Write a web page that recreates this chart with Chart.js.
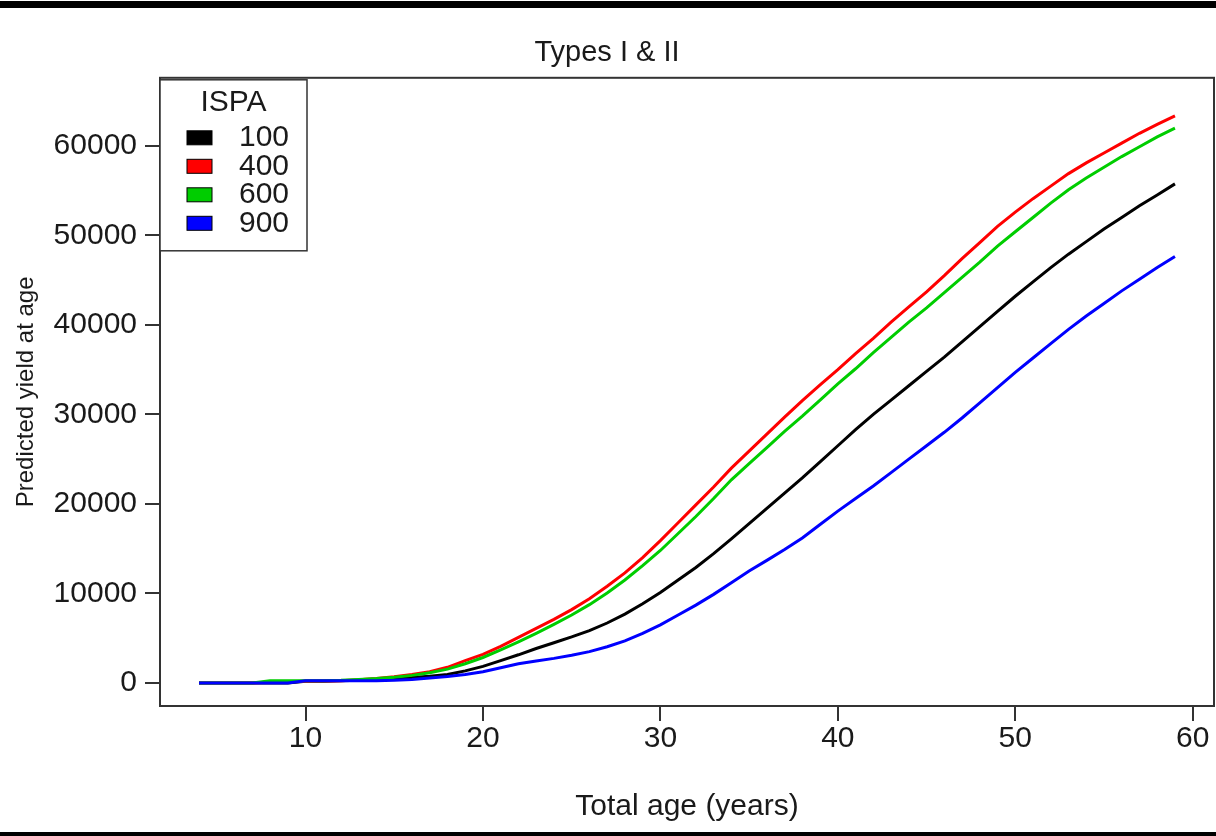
<!DOCTYPE html>
<html>
<head>
<meta charset="utf-8">
<title>Types I &amp; II</title>
<script src="https://cdn.jsdelivr.net/npm/chart.js@4.4.1/dist/chart.umd.min.js"></script>
<style>
  html, body { margin: 0; padding: 0; background: #fff; }
  #wrap { width: 1216px; height: 836px; }
</style>
</head>
<body>
<div id="wrap"><canvas id="chartYield"></canvas></div>
<script>
// Idade total (anos)
const ages = [4, 5, 6, 7, 8, 9, 10, 11, 12, 13, 14, 15, 16, 17, 18, 19, 20, 21, 22, 23, 24, 25, 26, 27, 28, 29, 30, 31,
  32, 33, 34, 35, 36, 37, 38, 39, 40, 41, 42, 43, 44, 45, 46, 47, 48, 49, 50, 51, 52, 53, 54, 55, 56, 57, 58, 59];

// Produção prevista por classe de ISPA
const yield100 = [0, 0, 0, 0, 0, 0, 200, 200, 250, 300, 400, 500, 600, 750, 950, 1350, 1850, 2500, 3150, 3850, 4500,
  5150, 5850, 6700, 7700, 8850, 10100, 11500, 12900, 14450, 16100, 17800, 19500, 21200, 22900, 24700, 26500, 28300,
  30000, 31600, 33200, 34800, 36400, 38100, 39800, 41500, 43200, 44800, 46400, 47900, 49300, 50700, 52000, 53300,
  54500, 55750];
const yield400 = [0, 0, 0, 0, 100, 150, 200, 220, 250, 350, 500, 700, 950, 1250, 1750, 2500, 3200, 4100, 5100, 6100,
  7100, 8200, 9400, 10800, 12300, 14000, 15900, 17900, 19900, 21900, 24000, 25900, 27800, 29700, 31550, 33300, 35000,
  36800, 38500, 40300, 42000, 43700, 45500, 47400, 49200, 51000, 52600, 54100, 55500, 56900, 58100, 59200, 60300,
  61400, 62400, 63350];
const yield600 = [0, 0, 0, 0, 250, 250, 250, 250, 300, 400, 500, 650, 850, 1150, 1550, 2150, 2850, 3700, 4600, 5550,
  6550, 7600, 8750, 10050, 11500, 13100, 14800, 16700, 18600, 20600, 22700, 24500, 26300, 28100, 29800, 31600, 33400,
  35100, 36900, 38600, 40300, 41900, 43600, 45300, 47000, 48800, 50400, 52000, 53600, 55100, 56400, 57600, 58800,
  59900, 61000, 61970];
const yield900 = [0, 0, 0, 0, 0, 0, 250, 250, 250, 250, 260, 300, 400, 550, 720, 950, 1250, 1700, 2150, 2450, 2750,
  3100, 3500, 4050, 4700, 5550, 6500, 7600, 8700, 9900, 11200, 12500, 13700, 14900, 16200, 17700, 19200, 20600, 22000,
  23500, 25000, 26500, 28000, 29600, 31300, 33000, 34700, 36300, 37900, 39500, 41000, 42400, 43800, 45100, 46400,
  47630];

const ispaClasses = ['100', '400', '600', '900'];
const ispaColors = ['#000000', '#ff0000', '#00cd00', '#0000ff'];

const xTicks = [10, 20, 30, 40, 50, 60];
const yTicks = [0, 10000, 20000, 30000, 40000, 50000, 60000];

const FONT = "'Liberation Sans', Arial, sans-serif";
const INK = '#1a1a1a';
const AXIS = '#333333';

const toPoints = vals => ages.map((a, i) => ({ x: a, y: vals[i] }));

// Fundo branco e faixas pretas da moldura
const frame = {
  id: 'frame',
  beforeDraw(chart) {
    const { ctx, width, height } = chart;
    ctx.save();
    ctx.fillStyle = '#fff';
    ctx.fillRect(0, 0, width, height);
    ctx.fillStyle = '#000';
    ctx.fillRect(0, 1, width, 7);
    ctx.fillRect(0, height - 4, width, 4);
    ctx.restore();
  }
};

// Caixa em volta da área do gráfico (estilo R)
const plotBox = {
  id: 'plotBox',
  afterDraw(chart) {
    const { ctx, chartArea: a } = chart;
    ctx.save();
    ctx.strokeStyle = AXIS;
    ctx.lineWidth = 2;
    ctx.strokeRect(a.left, a.top, a.right - a.left, a.bottom - a.top);
    ctx.restore();
  }
};

// Legenda com título "ISPA" no canto superior esquerdo
const ispaLegend = {
  id: 'ispaLegend',
  afterDraw(chart) {
    const { ctx, chartArea: a } = chart;
    const x0 = a.left, y0 = a.top + 2, w = 147, h = 171;
    ctx.save();
    ctx.fillStyle = '#fff';
    ctx.fillRect(x0, y0, w, h);
    ctx.strokeStyle = AXIS;
    ctx.lineWidth = 1.5;
    ctx.strokeRect(x0, y0, w, h);

    ctx.fillStyle = INK;
    ctx.font = `30px ${FONT}`;
    ctx.textAlign = 'center';
    ctx.textBaseline = 'middle';
    ctx.fillText('ISPA', x0 + w / 2, y0 + 23);

    chart.data.datasets.forEach((ds, i) => {
      const cy = y0 + 58 + i * 28.5;
      ctx.fillStyle = ds.borderColor;
      ctx.fillRect(x0 + 27, cy - 7, 25, 14);
      ctx.strokeStyle = '#000';
      ctx.lineWidth = 1;
      ctx.strokeRect(x0 + 27, cy - 7, 25, 14);
      ctx.fillStyle = INK;
      ctx.textAlign = 'right';
      ctx.fillText(ds.label, x0 + 129, cy);
    });
    ctx.restore();
  }
};

const series = [yield100, yield400, yield600, yield900];

new Chart(document.getElementById('chartYield'), {
  type: 'line',
  data: {
    datasets: series.map((vals, i) => ({
      label: ispaClasses[i],
      data: toPoints(vals),
      borderColor: ispaColors[i],
      backgroundColor: ispaColors[i],
      borderWidth: 3,
      pointRadius: 0,
      tension: 0,
      fill: false,
      order: series.length - i
    }))
  },
  options: {
    responsive: true,
    maintainAspectRatio: false,
    animation: false,
    events: [],
    layout: { padding: { top: 0, left: 0, right: 2, bottom: 0 } },
    scales: {
      x: {
        type: 'linear',
        min: 1.8,
        max: 61.2,
        afterBuildTicks: scale => { scale.ticks = xTicks.map(v => ({ value: v })); },
        afterFit: scale => { scale.height = 130; },
        grid: { drawOnChartArea: false, drawTicks: true, tickLength: 15, color: AXIS, lineWidth: 2 },
        border: { display: false },
        ticks: { color: INK, font: { family: FONT, size: 30 }, padding: 0, maxRotation: 0 },
        title: {
          display: true,
          text: 'Total age (years)',
          color: INK,
          font: { family: FONT, size: 30 },
          padding: { top: 0, bottom: 11 }
        }
      },
      y: {
        min: -2570,
        max: 67600,
        afterBuildTicks: scale => { scale.ticks = yTicks.map(v => ({ value: v })); },
        afterFit: scale => { scale.width = 160; },
        grid: { drawOnChartArea: false, drawTicks: true, tickLength: 15, color: AXIS, lineWidth: 2 },
        border: { display: false },
        ticks: { color: INK, font: { family: FONT, size: 30 }, padding: 8, callback: v => String(v) },
        title: {
          display: true,
          text: 'Predicted yield at age',
          color: INK,
          font: { family: FONT, size: 24 },
          padding: { top: 12, bottom: 0 }
        }
      }
    },
    plugins: {
      legend: { display: false },
      tooltip: { enabled: false },
      title: {
        display: true,
        text: 'Types I & II',
        color: INK,
        font: { family: FONT, size: 29, weight: 'normal' },
        padding: { top: 36, bottom: 7 }
      }
    }
  },
  plugins: [frame, plotBox, ispaLegend]
});
</script>
</body>
</html>
